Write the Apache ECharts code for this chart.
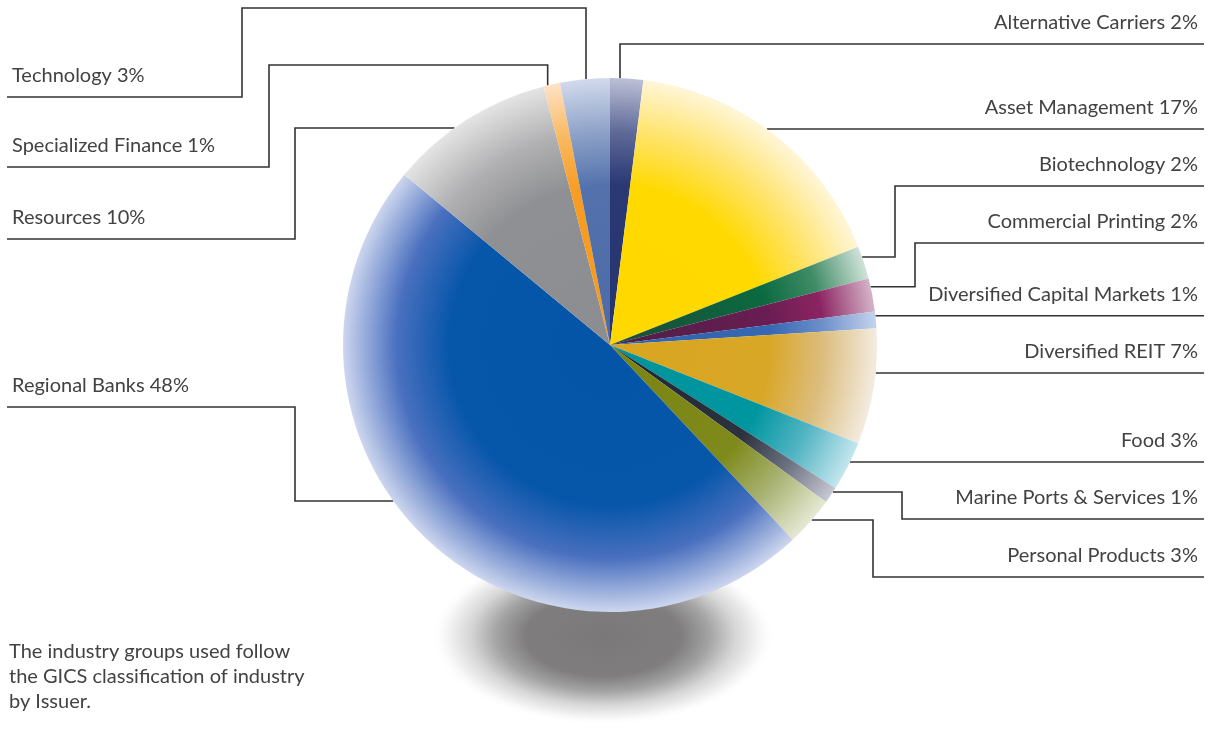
<!DOCTYPE html>
<html>
<head>
<meta charset="utf-8">
<script src="https://cdn.jsdelivr.net/npm/echarts@6/dist/echarts.min.js"></script>
<style>
  html, body { margin: 0; padding: 0; background: #ffffff; }
  #chart { width: 1211px; height: 729px; }
</style>
</head>
<body>
<div id="chart"></div>
<script>
// Industry breakdown by issuer (% of portfolio)
const industries = [
  'Alternative Carriers',
  'Asset Management',
  'Biotechnology',
  'Commercial Printing',
  'Diversified Capital Markets',
  'Diversified REIT',
  'Food',
  'Marine Ports & Services',
  'Personal Products',
  'Regional Banks',
  'Resources',
  'Specialized Finance',
  'Technology'
];
const weights = [2, 17, 2, 2, 1, 7, 3, 1, 3, 48, 10, 1, 3];
const noteLines = [
  'The industry groups used follow',
  'the GICS classification of industry',
  'by Issuer.'
];

// ---- geometry & styling ----
const CX = 610, CY = 345, R = 267;
const FONT = 'Lato, "Open Sans", sans-serif';
const FONT_SIZE = 20;
const TEXT_COLOR = '#424242';

// per-slice shading: core, core edge (60%), 80%, rim
const sliceShades = [
  ['#26346e', '#2a3874', '#5f6a98', '#bcc0d6'],
  ['#ffd800', '#ffd900', '#ffe36a', '#fff6d8'],
  ['#1d4a36', '#0b6a40', '#3f8c66', '#d0e3d9'],
  ['#4a2046', '#6a1d52', '#8c2462', '#d4b4c8'],
  ['#2f62ae', '#3667b2', '#6e8fca', '#c4d3ee'],
  ['#d8a51f', '#d9a727', '#dcbd7e', '#f3ece0'],
  ['#00939c', '#0096a0', '#52b4c2', '#c4e6ee'],
  ['#1e2430', '#2c323e', '#6b7080', '#c6c8d2'],
  ['#7a8412', '#7f8a1c', '#a8b272', '#e5e9d4'],
  ['#0455a8', '#0656aa', '#4a70bf', '#cdd6ee'],
  ['#8c8d90', '#8f9093', '#b0b0b2', '#e4e4e4'],
  ['#f7991c', '#f79d24', '#f9b962', '#fde2c4'],
  ['#4c6aa8', '#5372ac', '#8ea2c8', '#d2daec']
];

// where each label sits and how its leader line is routed
const labelRoutes = [
  { side: 'right', rowY: 44,  enter: 'top',  entryX: 620 },
  { side: 'right', rowY: 129, enter: 'direct' },
  { side: 'right', rowY: 186, enter: 'side', elbowX: 895, entryY: 257 },
  { side: 'right', rowY: 243, enter: 'side', elbowX: 915, entryY: 278 },
  { side: 'right', rowY: 302, enter: 'direct' },
  { side: 'right', rowY: 373, enter: 'direct' },
  { side: 'right', rowY: 462, enter: 'direct' },
  { side: 'right', rowY: 519, enter: 'side', elbowX: 902, entryY: 492 },
  { side: 'right', rowY: 577, enter: 'side', elbowX: 873, entryY: 520 },
  { side: 'left',  rowY: 407, enter: 'side', elbowX: 295, entryY: 501 },
  { side: 'left',  rowY: 239, enter: 'side', elbowX: 295, entryY: 128 },
  { side: 'left',  rowY: 167, enter: 'top',  entryX: 544, topY: 65, elbowX: 269 },
  { side: 'left',  rowY: 97,  enter: 'top',  entryX: 586, topY: 8,  elbowX: 242 }
];

// angular extent of every slice (clockwise from 12 o'clock, as the pie lays them out)
const total = weights.reduce((a, b) => a + b, 0);
const ranges = (function () {
  let acc = 0;
  return weights.map(w => {
    const a0 = acc / total * 360;
    acc += w;
    return [a0, acc / total * 360];
  });
})();

function arcPoint(deg) {
  const t = deg * Math.PI / 180;
  return [CX + R * Math.sin(t), CY - R * Math.cos(t)];
}
function clampAngle(i, deg) {
  const a0 = ranges[i][0], a1 = ranges[i][1];
  const m = (a1 - a0) * 0.25;
  return Math.min(Math.max(deg, a0 + m), a1 - m);
}
function angleAtY(y, side) {
  const c = Math.max(-1, Math.min(1, (CY - y) / R));
  const b = Math.acos(c) * 180 / Math.PI;
  return side === 'left' ? 360 - b : b;
}
function angleAtX(x) {
  const d = Math.asin(Math.max(-1, Math.min(1, (x - CX) / R))) * 180 / Math.PI;
  return d < 0 ? d + 360 : d;
}

function layoutLabel(p) {
  const i = p.dataIndex;
  const r = labelRoutes[i];
  const right = r.side === 'right';
  const lineEnd = right ? 1204 : 7;
  const textX = right ? 1198 : 12;
  let rowY = r.rowY;
  let pts;
  if (r.enter === 'top') {
    const pt = arcPoint(clampAngle(i, angleAtX(r.entryX)));
    if (r.elbowX == null) {
      pts = [pt, [pt[0], rowY], [lineEnd, rowY]];
    } else {
      pts = [pt, [pt[0], r.topY], [r.elbowX, r.topY], [r.elbowX, rowY], [lineEnd, rowY]];
    }
  } else if (r.enter === 'side') {
    const pt = arcPoint(clampAngle(i, angleAtY(r.entryY, r.side)));
    pts = [pt, [r.elbowX, pt[1]], [r.elbowX, rowY], [lineEnd, rowY]];
  } else {
    const pt = arcPoint(clampAngle(i, angleAtY(rowY, r.side)));
    rowY = pt[1];
    pts = [pt, [lineEnd, rowY]];
  }
  return {
    x: textX,
    y: rowY - 21,
    align: right ? 'right' : 'left',
    verticalAlign: 'middle',
    labelLinePoints: pts
  };
}

function shade(stops) {
  return {
    type: 'radial', x: CX, y: CY, r: R, global: true,
    colorStops: [
      { offset: 0, color: stops[0] },
      { offset: 0.6, color: stops[1] },
      { offset: 0.8, color: stops[2] },
      { offset: 1, color: stops[3] }
    ]
  };
}

const pieData = industries.map((name, i) => ({
  name: name,
  value: weights[i],
  itemStyle: { color: shade(sliceShades[i]) }
}));

const chart = echarts.init(document.getElementById('chart'), null, { renderer: 'canvas' });
chart.setOption({
  animation: false,
  backgroundColor: '#ffffff',
  graphic: [
    {
      // soft floor shadow under the pie
      type: 'circle',
      z: 0,
      silent: true,
      x: 603, y: 636,
      scaleY: 0.52,
      shape: { cx: 0, cy: 0, r: 172 },
      style: {
        fill: {
          type: 'radial', x: 0.5, y: 0.5, r: 0.5,
          colorStops: [
            { offset: 0, color: '#7a7878' },
            { offset: 0.45, color: '#7f7d7d' },
            { offset: 0.62, color: '#a4a4a4' },
            { offset: 0.77, color: '#d6d6d6' },
            { offset: 0.9, color: '#f3f3f3' },
            { offset: 1, color: 'rgba(255,255,255,0)' }
          ]
        }
      }
    },
    {
      type: 'text',
      z: 1,
      silent: true,
      x: 9, y: 639,
      style: {
        text: noteLines.join('\n'),
        font: FONT_SIZE + 'px ' + FONT,
        fill: TEXT_COLOR,
        lineHeight: 25
      }
    }
  ],
  series: [{
    type: 'pie',
    z: 5,
    center: [CX, CY],
    radius: R,
    startAngle: 90,
    clockwise: true,
    avoidLabelOverlap: false,
    silent: true,
    emphasis: { disabled: true },
    itemStyle: { borderWidth: 0 },
    label: {
      show: true,
      formatter: '{b} {c}%',
      fontFamily: FONT,
      fontSize: FONT_SIZE,
      color: TEXT_COLOR,
      overflow: 'none'
    },
    labelLine: {
      show: true,
      smooth: false,
      lineStyle: { color: '#333333', width: 1.6 }
    },
    labelLayout: layoutLabel,
    data: pieData
  }]
});
</script>
</body>
</html>
